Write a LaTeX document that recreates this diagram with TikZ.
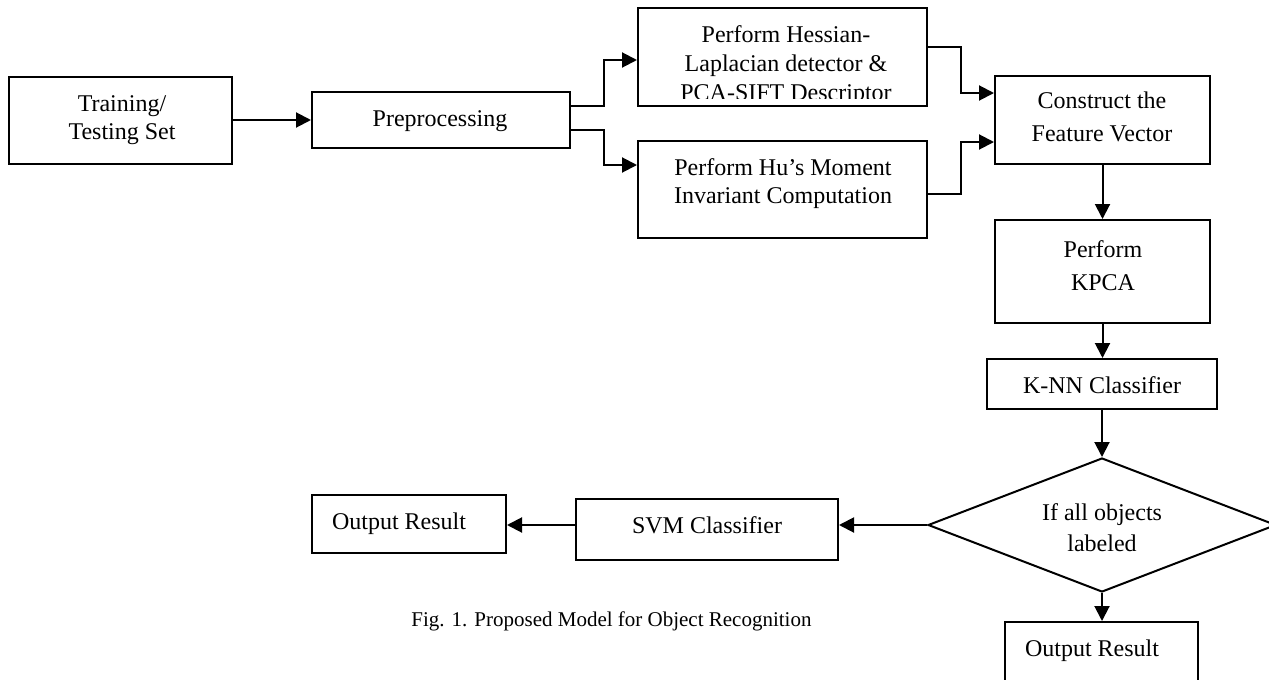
\documentclass[tikz,border=0pt]{standalone}
\usepackage{fontspec}
\setmainfont{Liberation Serif}
\usetikzlibrary{arrows.meta,shapes.geometric}
\begin{document}
\begin{tikzpicture}[x=0.5pt,y=-0.5pt,
  box/.style={draw,line width=1pt,rectangle,inner sep=0pt},
  txt/.style={align=center,inner sep=0pt,font=\fontsize{12}{14}\selectfont},
  arr/.style={line width=1pt,-{Triangle[length=7.5pt,width=7.5pt]}},
  captext/.style={inner sep=0pt,font=\fontsize{10.5}{12}\selectfont}
]
\clip (0,0) rectangle (1269,680);
% boxes
\node[box,minimum width=111.5pt,minimum height=43.5pt] (train) at (120.5,120.5) {};
\node[txt] (ttrain) at (122,120) {Training/\\Testing Set};
\node[box,minimum width=129pt,minimum height=28pt] (pre) at (441,120) {};
\node[txt] (tpre) at (440,121) {Preprocessing};
\node[box,minimum width=144.5pt,minimum height=49pt] (hess) at (782.5,57) {};
\begin{scope}
  \clip (640,10) rectangle (925,98);
  \node[txt,font=\fontsize{12}{14.5}\selectfont] (thess) at (786,66) {Perform Hessian-\\Laplacian detector \&\\PCA-SIFT Descriptor};
\end{scope}
\node[box,minimum width=144.5pt,minimum height=48.5pt] (hu) at (782.5,189.5) {};
\node[txt] (thu) at (783,184) {Perform Hu’s Moment\\Invariant Computation};
\node[box,minimum width=107.5pt,minimum height=44pt] (feat) at (1102.5,120) {};
\node[txt,font=\fontsize{12}{16.5}\selectfont] (tfeat) at (1102,116.5) {Construct the\\Feature Vector};
\node[box,minimum width=107.5pt,minimum height=51.5pt] (kpca) at (1102.5,271.5) {};
\node[txt,font=\fontsize{12}{16.5}\selectfont] (tkpca) at (1103,265.5) {Perform\\KPCA};
\node[box,minimum width=115pt,minimum height=25pt] (knn) at (1102,384) {};
\node[txt] (tknn) at (1102,385) {K-NN Classifier};
\node[draw,line width=1pt,shape=diamond,inner sep=0pt,minimum width=174pt,minimum height=67pt] (dia) at (1102,525) {};
\node[txt,font=\fontsize{12}{15.5}\selectfont] (tdia) at (1102,527.5) {If all objects\\labeled};
\node[box,minimum width=96.5pt,minimum height=40pt] (out2) at (1101.5,662) {};
\node[txt] (tout2) at (1092,651) {Output Result};
\node[box,minimum width=131pt,minimum height=30.5pt] (svm) at (707,529.5) {};
\node[txt] (tsvm) at (707,525) {SVM Classifier};
\node[box,minimum width=97pt,minimum height=29pt] (out1) at (409,524) {};
\node[txt] (tout1) at (399,524) {Output Result};
\node[captext] (caption) at (611.5,621) {Fig. 1. Proposed Model for Object Recognition};
% connectors
\draw[arr] (train.east |- pre.west) -- (pre.west);
\draw[arr] ([yshift=7pt]pre.east) -- ++(16.5pt,0) |- ([yshift=-1.5pt]hess.west);
\draw[arr] ([yshift=-5pt]pre.east) -- ++(16.5pt,0) |- ([yshift=12.25pt]hu.west);
\draw[arr] ([yshift=5pt]hess.east) -- ++(16.5pt,0) |- ([yshift=13.5pt]feat.west);
\draw[arr] ([yshift=-2.25pt]hu.east) -- ++(16.5pt,0) |- ([yshift=-11pt]feat.west);
\draw[arr] (feat.south) -- (kpca.north);
\draw[arr] (kpca.south) -- (kpca.south |- knn.north);
\draw[arr] (knn.south) -- (dia.north);
\draw[arr] (dia.west) -- (dia.west -| svm.east);
\draw[arr] (svm.west |- dia.west) -- (out1.east |- dia.west);
\draw[arr] (dia.south) -- (dia.south |- out2.north);
\end{tikzpicture}
\end{document}
